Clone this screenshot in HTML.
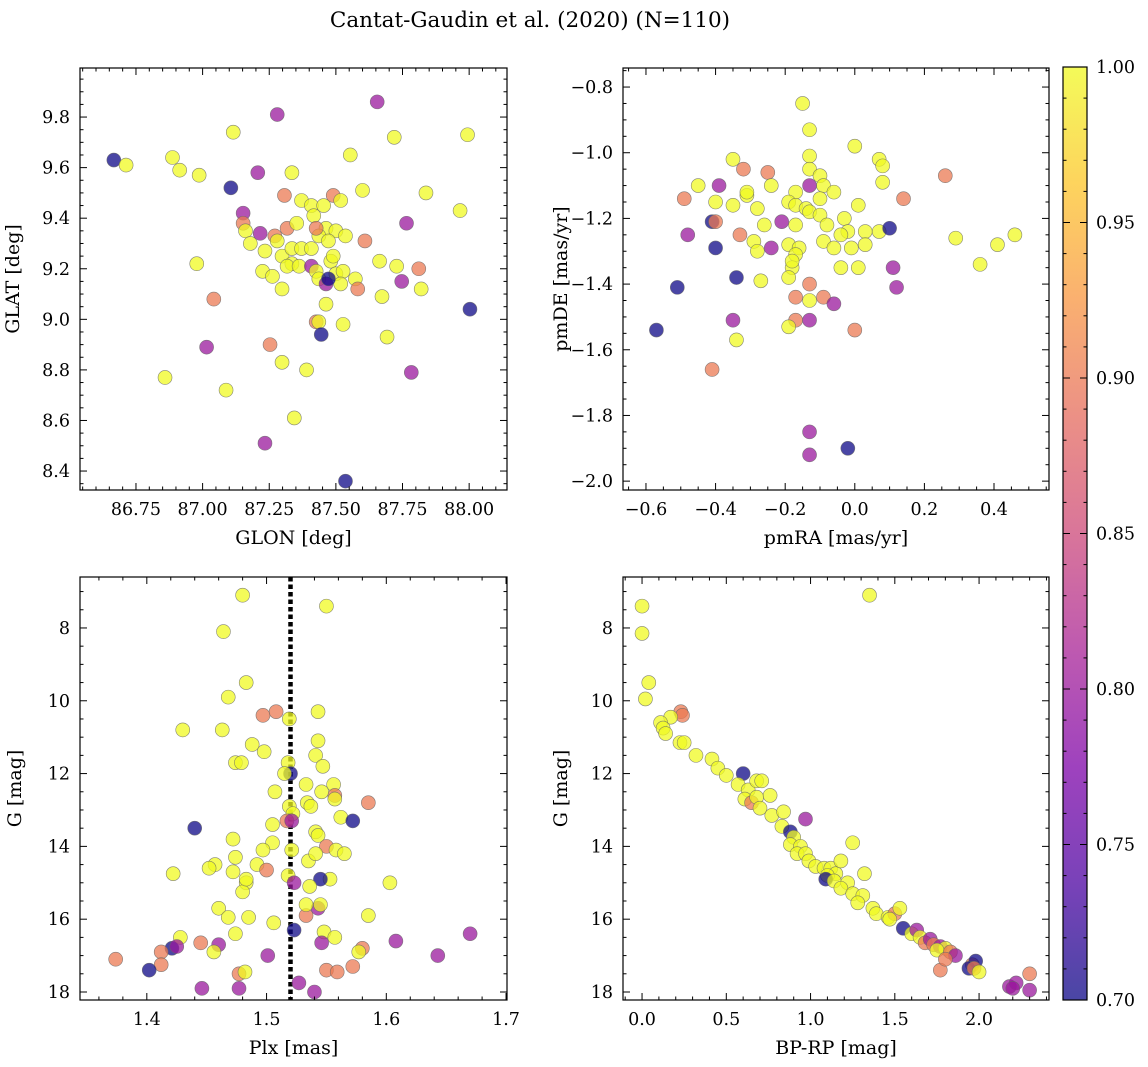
<!DOCTYPE html>
<html><head><meta charset="utf-8"><style>
html,body{margin:0;padding:0;background:#fff;}
svg{display:block;font-family:"DejaVu Serif","Liberation Serif",serif;}
</style></head><body>
<svg id="fig" width="1148" height="1067" viewBox="0 0 1148 1067" xmlns="http://www.w3.org/2000/svg">
<defs>
<linearGradient id="plasma" x1="0" y1="1" x2="0" y2="0">
<stop offset="0" stop-color="#0d0887"/><stop offset="0.125" stop-color="#4c02a1"/><stop offset="0.25" stop-color="#7e03a8"/><stop offset="0.375" stop-color="#a82296"/><stop offset="0.5" stop-color="#cc4778"/><stop offset="0.625" stop-color="#e56b5d"/><stop offset="0.75" stop-color="#f89540"/><stop offset="0.875" stop-color="#fdc527"/><stop offset="1" stop-color="#f0f921"/>
</linearGradient>
</defs>
<text x="530" y="27" font-size="21.5" text-anchor="middle">Cantat-Gaudin et al. (2020) (N=110)</text>
</svg>
<script>
// ---- Panel 1: GLON / GLAT ----
const p1_glon=[86.667,86.713,86.887,86.914,86.987,87.115,87.106,87.207,87.280,87.655,87.719,87.994,87.554,87.335,87.307,87.152,87.152,87.161,87.179,87.216,87.271,87.317,87.280,87.234,87.225,87.262,87.298,87.335,87.371,87.408,87.353,87.371,87.408,87.417,87.454,87.490,87.518,87.600,87.463,87.500,87.536,87.436,87.472,87.426,87.335,87.317,87.362,87.408,87.426,87.436,87.463,87.481,87.490,87.500,87.527,87.518,87.573,87.582,87.472,87.609,87.664,87.728,87.765,87.838,87.966,87.811,87.747,87.820,87.673,87.463,87.527,87.426,87.436,87.445,87.692,88.003,87.042,86.978,87.298,87.253,87.298,87.390,87.015,86.859,87.088,87.344,87.783,87.234,87.536];
const p1_glat=[9.63,9.61,9.64,9.59,9.57,9.74,9.52,9.58,9.81,9.86,9.72,9.73,9.65,9.58,9.49,9.42,9.38,9.35,9.30,9.34,9.33,9.36,9.31,9.27,9.19,9.17,9.25,9.28,9.28,9.28,9.38,9.47,9.45,9.41,9.45,9.49,9.47,9.51,9.36,9.35,9.33,9.33,9.31,9.36,9.22,9.21,9.21,9.21,9.19,9.16,9.14,9.23,9.25,9.18,9.19,9.14,9.16,9.12,9.16,9.31,9.23,9.21,9.38,9.50,9.43,9.20,9.15,9.12,9.09,9.06,8.98,8.99,8.99,8.94,8.93,9.04,9.08,9.22,9.12,8.90,8.83,8.80,8.89,8.77,8.72,8.61,8.79,8.51,8.36];
const p1_prob=[0.7,1,1,1,1,1,0.7,0.8,0.8,0.8,1,1,1,1,0.9,0.8,0.9,1,1,0.8,0.9,0.9,1,1,1,1,1,1,1,1,1,1,1,1,1,0.9,1,1,1,1,1,1,1,0.9,1,1,1,0.8,1,1,0.8,1,1,1,1,1,1,0.9,0.7,0.9,1,1,0.8,1,1,0.9,0.8,1,1,1,1,0.9,1,0.7,1,0.7,0.9,1,1,0.9,1,1,0.8,1,1,1,0.8,0.8,0.7];
// ---- Panel 2: pmRA / pmDE ----
const p2_pmra=[-0.15,-0.13,0.00,-0.13,-0.35,-0.13,-0.45,-0.39,-0.32,-0.25,0.26,0.07,0.08,-0.10,-0.09,-0.13,-0.24,-0.17,-0.49,0.14,-0.40,-0.31,-0.31,-0.35,-0.28,-0.19,-0.17,-0.14,-0.10,-0.06,0.01,0.08,-0.41,-0.26,-0.21,-0.13,-0.10,-0.08,-0.03,-0.02,0.03,0.07,0.10,-0.17,-0.40,-0.48,-0.33,-0.40,-0.29,-0.24,-0.19,-0.16,-0.09,-0.06,-0.01,0.03,-0.04,-0.17,-0.18,-0.18,-0.19,-0.28,-0.34,-0.27,-0.13,-0.04,0.01,0.11,0.36,0.41,0.46,0.29,0.12,-0.51,-0.17,-0.09,-0.13,-0.06,-0.57,-0.35,-0.17,-0.13,-0.19,0.00,-0.34,-0.41,-0.13,-0.13,-0.02];
const p2_pmde=[-0.85,-0.93,-0.98,-1.01,-1.02,-1.05,-1.10,-1.10,-1.05,-1.06,-1.07,-1.02,-1.04,-1.07,-1.10,-1.10,-1.10,-1.12,-1.14,-1.14,-1.15,-1.13,-1.12,-1.16,-1.17,-1.15,-1.16,-1.17,-1.14,-1.12,-1.16,-1.09,-1.21,-1.22,-1.21,-1.18,-1.19,-1.22,-1.20,-1.24,-1.24,-1.24,-1.23,-1.22,-1.21,-1.25,-1.25,-1.29,-1.27,-1.29,-1.28,-1.29,-1.27,-1.29,-1.29,-1.28,-1.25,-1.31,-1.35,-1.33,-1.38,-1.30,-1.38,-1.39,-1.40,-1.35,-1.35,-1.35,-1.34,-1.28,-1.25,-1.26,-1.41,-1.41,-1.44,-1.44,-1.45,-1.46,-1.54,-1.51,-1.51,-1.51,-1.53,-1.54,-1.57,-1.66,-1.85,-1.92,-1.90];
const p2_prob=[1,1,1,1,1,1,1,0.8,0.9,0.9,0.9,1,1,1,1,0.8,1,1,0.9,0.9,1,1,1,1,1,1,1,1,1,1,1,1,0.7,1,0.8,1,1,1,1,1,1,1,0.7,1,0.9,0.8,0.9,0.7,1,0.8,1,1,1,1,1,1,1,1,1,1,1,1,0.7,1,0.9,1,1,0.8,1,1,1,1,0.8,0.7,0.9,0.9,1,0.8,0.7,0.8,0.9,0.8,1,0.9,1,0.9,0.8,0.8,0.7];
// ---- Panel 3: Plx / G ----
const p3_plx=[1.48,1.55,1.464,1.483,1.468,1.497,1.508,1.519,1.543,1.43,1.463,1.488,1.543,1.474,1.479,1.498,1.518,1.541,1.547,1.52,1.515,1.533,1.556,1.557,1.546,1.507,1.557,1.534,1.537,1.519,1.522,1.517,1.521,1.505,1.562,1.572,1.585,1.44,1.541,1.543,1.472,1.505,1.497,1.521,1.55,1.535,1.541,1.558,1.565,1.474,1.492,1.457,1.452,1.50,1.518,1.553,1.545,1.472,1.422,1.483,1.48,1.523,1.536,1.603,1.483,1.46,1.468,1.485,1.506,1.533,1.543,1.545,1.533,1.585,1.474,1.523,1.548,1.546,1.557,1.58,1.577,1.608,1.643,1.67,1.428,1.421,1.425,1.412,1.46,1.456,1.445,1.374,1.501,1.412,1.402,1.477,1.482,1.527,1.55,1.559,1.572,1.446,1.477,1.54];
const p3_g=[7.1,7.4,8.1,9.5,9.9,10.4,10.3,10.5,10.3,10.8,10.8,11.2,11.1,11.7,11.7,11.4,11.7,11.5,11.8,12.0,12.0,12.3,12.3,12.6,12.5,12.5,12.7,12.8,12.9,12.9,13.1,13.3,13.3,13.4,13.2,13.3,12.8,13.5,13.6,13.7,13.8,13.9,14.1,14.1,14.0,14.4,14.2,14.1,14.2,14.3,14.5,14.5,14.6,14.65,14.8,14.9,14.9,14.7,14.75,15.0,15.25,15.0,15.1,15.0,14.9,15.7,15.95,15.95,16.1,15.9,15.7,15.6,15.6,15.9,16.4,16.3,16.35,16.65,16.5,16.8,16.9,16.6,17.0,16.4,16.5,16.8,16.75,16.9,16.7,16.9,16.65,17.1,17.0,17.25,17.4,17.5,17.45,17.75,17.4,17.45,17.3,17.9,17.9,18.0];
const p3_prob=[1,1,1,1,1,0.9,0.9,1,1,1,1,1,1,1,1,1,1,1,1,0.7,1,1,1,0.9,1,1,1,1,1,1,1,0.9,0.8,1,1,0.7,0.9,0.7,1,1,1,1,1,1,0.9,1,1,1,1,1,1,1,1,0.9,1,1,0.7,1,1,1,1,0.8,1,1,1,1,1,1,1,0.9,0.8,1,1,1,1,0.7,1,0.8,1,0.9,1,0.8,0.8,0.8,1,0.7,0.8,0.9,0.8,1,0.9,0.9,0.8,0.9,0.7,0.9,1,0.8,0.9,0.9,0.9,0.8,0.8,0.8];
const p3_plxMean=[1.52];
// ---- Panel 4: BP-RP / G ----
const p4_bprp=[0.0,0.0,0.04,0.02,0.23,0.24,0.17,0.11,0.125,0.14,0.225,0.25,1.35,0.32,0.415,0.45,0.50,0.60,0.57,0.63,0.61,0.68,0.71,0.65,0.68,0.70,0.76,0.77,0.84,0.83,0.97,0.88,0.90,0.88,0.94,0.92,0.97,0.99,1.03,1.08,1.12,1.15,1.18,1.25,1.10,1.09,1.14,1.22,1.18,1.25,1.31,1.32,1.28,1.37,1.39,1.46,1.50,1.53,1.47,1.55,1.60,1.63,1.65,1.68,1.71,1.73,1.77,1.80,1.75,1.83,1.86,1.77,1.96,1.98,1.94,1.97,2.0,2.18,2.22,2.2,2.3,2.3,1.80];
const p4_g=[7.4,8.15,9.5,9.95,10.3,10.4,10.45,10.6,10.75,10.9,11.15,11.15,7.1,11.5,11.6,11.85,12.05,12.0,12.3,12.45,12.7,12.2,12.2,12.8,12.65,12.95,12.6,13.15,13.05,13.45,13.25,13.6,13.75,13.95,14.0,14.2,14.2,14.4,14.55,14.6,14.6,14.75,14.4,13.9,14.8,14.9,14.95,15.0,15.15,15.3,15.35,14.75,15.55,15.7,15.85,15.95,15.85,15.7,16.0,16.25,16.4,16.3,16.5,16.65,16.55,16.7,16.75,16.8,16.85,16.9,17.0,17.4,17.25,17.15,17.35,17.35,17.45,17.85,17.75,17.9,17.95,17.5,17.1];
const p4_prob=[1,1,1,1,0.9,0.9,1,1,1,1,1,1,1,1,1,1,1,0.7,1,1,1,1,1,0.9,1,1,1,1,1,1,0.8,0.7,1,1,1,1,1,1,1,1,1,1,1,1,1,0.7,1,1,1,1,1,1,1,1,1,1,0.9,1,1,0.7,1,0.8,1,0.9,0.8,0.9,0.8,1,1,0.9,0.8,0.9,0.9,0.7,0.7,0.9,1,0.8,0.8,0.8,0.8,0.9,0.9];
// ---- Colorbar ----
const cb_ticks=[0.70,0.75,0.80,0.85,0.90,0.95,1.00];

const NS="http://www.w3.org/2000/svg";
const svg=document.getElementById('fig');
function mk(tag,attrs,parent){const e=document.createElementNS(NS,tag);for(const k in attrs)e.setAttribute(k,attrs[k]);(parent||svg).appendChild(e);return e;}
const stops=[[0,[13,8,135]],[0.125,[76,2,161]],[0.25,[126,3,168]],[0.375,[168,34,150]],[0.5,[204,71,120]],[0.625,[229,107,93]],[0.75,[248,149,64]],[0.875,[253,197,39]],[1,[240,249,33]]];
function plasma(t){t=Math.max(0,Math.min(1,t));for(let i=1;i<stops.length;i++){if(t<=stops[i][0]){const a=stops[i-1],b=stops[i];const f=(t-a[0])/(b[0]-a[0]);const c=a[1].map((v,j)=>Math.round(v+(b[1][j]-v)*f));return 'rgb('+c.join(',')+')';}}return 'rgb(240,249,33)';}
function col(p){return plasma((p-0.7)/0.3);}
const TFS=17.5, LFS=19;

function panel(o){
  const g=mk('g',{});
  
  
  const X=v=>o.bx+(v-o.xd[0])/(o.xd[1]-o.xd[0])*o.bw;
  const Y=o.yinv?(v=>o.by+(v-o.yd[0])/(o.yd[1]-o.yd[0])*o.bh):(v=>o.by+o.bh-(v-o.yd[0])/(o.yd[1]-o.yd[0])*o.bh);
  const clip='clip-'+o.name;
  const cp=mk('clipPath',{id:clip},g);mk('rect',{x:o.bx,y:o.by,width:o.bw,height:o.bh},cp);
  const pts=mk('g',{'clip-path':'url(#'+clip+')'},g);
  
  
  if(o.vline!==undefined){
    const l=mk('line',{x1:X(o.vline),x2:X(o.vline),y1:o.by,y2:o.by+o.bh,stroke:'#000','stroke-width':4.5,'stroke-dasharray':'4.5 3'},pts);
    
    
  }
  for(let i=0;i<o.xs.length;i++){
    const c=mk('circle',{cx:X(o.xs[i]),cy:Y(o.ys[i]),r:7,fill:col(o.cs[i]),'fill-opacity':0.75,stroke:'#666','stroke-width':0.6,'stroke-opacity':0.8},pts);
    
    
  }
  const fr=mk('rect',{x:o.bx,y:o.by,width:o.bw,height:o.bh,fill:'none',stroke:'#000','stroke-width':1.2},g);
  
  
  const eps=1e-9;
  for(let k=Math.ceil(o.xd[0]/o.xmin-eps);k*o.xmin<=o.xd[1]+eps;k++){
    const v=k*o.xmin;const px=X(v);
    const major=Math.abs(v/o.xmaj-Math.round(v/o.xmaj))<1e-6;
    const L=major?7:3.5;
    mk('line',{x1:px,x2:px,y1:o.by+o.bh,y2:o.by+o.bh-L,stroke:'#000','stroke-width':1},g);
    mk('line',{x1:px,x2:px,y1:o.by,y2:o.by+L,stroke:'#000','stroke-width':1},g);
    if(major){const t=mk('text',{x:px,y:o.by+o.bh+25,'font-size':TFS,'text-anchor':'middle'},g);t.textContent=o.fx(v).replace('-','\u2212');
      }
  }
  for(let k=Math.ceil(o.yd[0]/o.ymin-eps);k*o.ymin<=o.yd[1]+eps;k++){
    const v=k*o.ymin;const py=Y(v);
    const major=Math.abs(v/o.ymaj-Math.round(v/o.ymaj))<1e-6;
    const L=major?7:3.5;
    mk('line',{x1:o.bx,x2:o.bx+L,y1:py,y2:py,stroke:'#000','stroke-width':1},g);
    mk('line',{x1:o.bx+o.bw,x2:o.bx+o.bw-L,y1:py,y2:py,stroke:'#000','stroke-width':1},g);
    if(major){const t=mk('text',{x:o.bx-10,y:py+6,'font-size':TFS,'text-anchor':'end'},g);t.textContent=o.fy(v).replace('-','\u2212');
      }
  }
  const xl=mk('text',{x:o.bx+o.bw/2,y:o.by+o.bh+54,'font-size':LFS,'text-anchor':'middle'},g);xl.textContent=o.xlabel;
  
  const yx=o.bx-o.ylo, yc=o.by+o.bh/2;
  const yl=mk('text',{x:yx,y:yc,'font-size':LFS,'text-anchor':'middle',transform:'rotate(-90 '+yx+' '+yc+')'},g);yl.textContent=o.ylabel;
  
}
panel({name:'glon-glat-panel',bx:80,by:68,bw:427,bh:422,xd:[86.54,88.142],yd:[8.325,9.994],xs:p1_glon,ys:p1_glat,cs:p1_prob,xmaj:0.25,xmin:0.05,ymaj:0.2,ymin:0.05,fx:v=>v.toFixed(2),fy:v=>v.toFixed(1),xlabel:'GLON [deg]',ylabel:'GLAT [deg]',ylo:61});
panel({name:'proper-motion-panel',bx:623,by:68,bw:426,bh:422,xd:[-0.666,0.558],yd:[-2.027,-0.742],xs:p2_pmra,ys:p2_pmde,cs:p2_prob,xmaj:0.2,xmin:0.05,ymaj:0.2,ymin:0.05,fx:v=>(Math.abs(v)<1e-9?0:v).toFixed(1),fy:v=>v.toFixed(1),xlabel:'pmRA [mas/yr]',ylabel:'pmDE [mas/yr]',ylo:56});
panel({name:'parallax-magnitude-panel',bx:80,by:577,bw:427,bh:423,xd:[1.3442,1.7008],yd:[6.6,18.22],yinv:true,xs:p3_plx,ys:p3_g,cs:p3_prob,vline:p3_plxMean[0],xmaj:0.1,xmin:0.02,ymaj:2,ymin:0.5,fx:v=>v.toFixed(1),fy:v=>v.toFixed(0),xlabel:'Plx [mas]',ylabel:'G [mag]',ylo:59});
panel({name:'cmd-panel',bx:623,by:577,bw:426,bh:423,xd:[-0.113,2.415],yd:[6.6,18.22],yinv:true,xs:p4_bprp,ys:p4_g,cs:p4_prob,xmaj:0.5,xmin:0.1,ymaj:2,ymin:0.5,fx:v=>v.toFixed(1),fy:v=>v.toFixed(0),xlabel:'BP-RP [mag]',ylabel:'G [mag]',ylo:56});

const cb=mk('g',{});


const cx=1063,cy=67,cw=24,ch=933;
mk('rect',{x:cx,y:cy,width:cw,height:ch,fill:'url(#plasma)','fill-opacity':0.75},cb);
mk('rect',{x:cx,y:cy,width:cw,height:ch,fill:'none',stroke:'#000','stroke-width':1.2},cb);
const CY=v=>cy+ch-(v-0.7)/0.3*ch;
for(let k=70;k<=100;k++){const v=k/100;const py=CY(v);const major=k%5===0;const L=major?7:3.5;
  mk('line',{x1:cx+cw,x2:cx+cw-L,y1:py,y2:py,stroke:'#000','stroke-width':1},cb);
  mk('line',{x1:cx,x2:cx+L,y1:py,y2:py,stroke:'#000','stroke-width':1},cb);}
for(const v of cb_ticks){const t=mk('text',{x:1096,y:CY(v)+6,'font-size':TFS},cb);t.textContent=v.toFixed(2);
  }
</script>
</body></html>
